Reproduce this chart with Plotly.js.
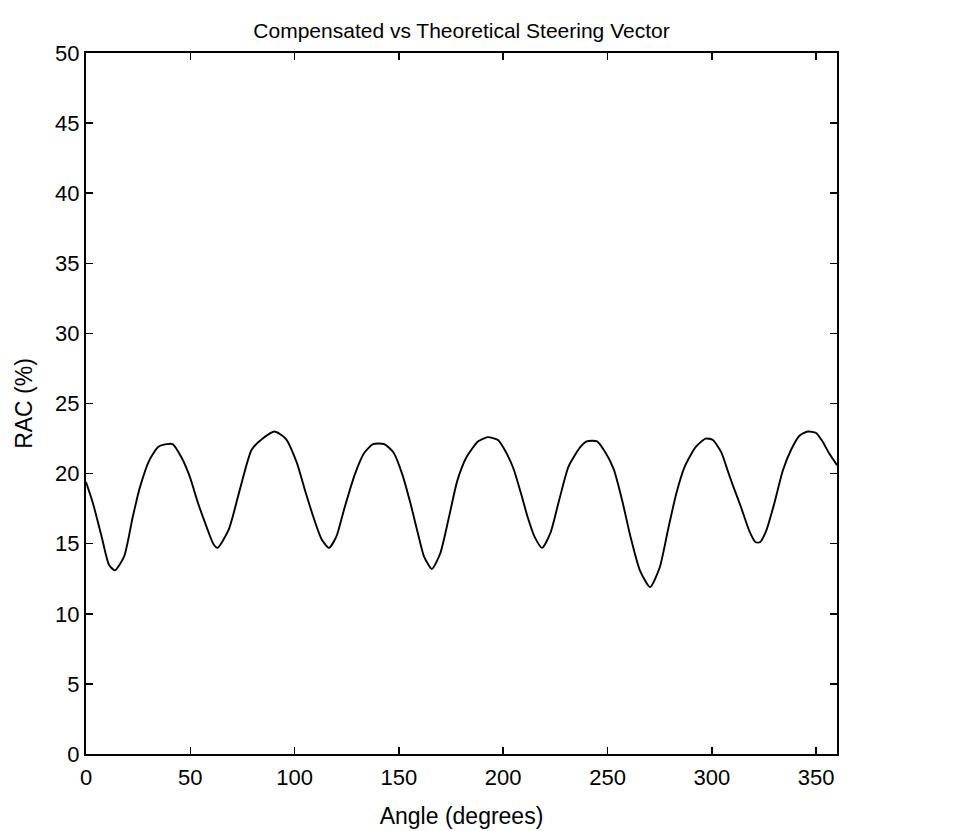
<!DOCTYPE html>
<html>
<head>
<meta charset="utf-8">
<script src="https://cdn.plot.ly/plotly-3.0.1.min.js"></script>
<style>html,body{margin:0;padding:0;background:#fff;}#chart{width:971px;height:831px;}</style>
</head>
<body>
<div id="chart"></div>
<script>
const chartTitle = "Compensated vs Theoretical Steering Vector";
const xTitle = "Angle (degrees)";
const yTitle = "RAC (%)";
const xTicks = [0, 50, 100, 150, 200, 250, 300, 350];
const yTicks = [0, 5, 10, 15, 20, 25, 30, 35, 40, 45, 50];

const angle = [0, 3.3, 7.5, 11, 13.8, 18.3, 22.4, 25.8, 30.5, 34.6, 38.7, 41.5, 45.6, 49.7, 53.7, 57.8, 61, 63,
  68.4, 74, 79.4, 84.7, 90.4, 95.7, 101, 105, 109, 113, 116.5, 120, 124, 129, 133.5, 137.6, 143, 147.4, 151.5,
  155.5, 159, 162, 165.8, 169.8, 174, 178, 182.5, 188, 192.6, 197.5, 200.7, 204.8, 208.5, 211.7, 215, 218.6,
  222.7, 226.8, 231.3, 237, 240, 245, 249, 253, 257, 261, 265.5, 270.4, 275, 279, 283, 287, 292.3, 297, 300.5,
  304.6, 307.4, 310, 314, 318, 321, 323, 326, 330, 334, 338, 342, 346, 350, 353, 356, 360];
const rac = [19.4, 17.9, 15.5, 13.5, 13.1, 14.1, 16.9, 19.0, 21.0, 21.9, 22.1, 22.1, 21.2, 19.8, 17.9, 16.2, 15.0, 14.7,
  16.0, 19.0, 21.7, 22.5, 23.0, 22.5, 20.8, 18.8, 16.9, 15.3, 14.7, 15.5, 17.6, 20.0, 21.5, 22.1, 22.1, 21.5, 20.0,
  17.9, 15.8, 14.1, 13.2, 14.3, 16.9, 19.5, 21.2, 22.3, 22.6, 22.4, 21.7, 20.4, 18.6, 16.9, 15.5, 14.7,
  15.8, 18.1, 20.5, 21.9, 22.3, 22.3, 21.5, 20.3, 18.1, 15.5, 13.1, 11.9, 13.3, 16.0, 18.6, 20.5, 21.9, 22.5, 22.4,
  21.5, 20.3, 19.2, 17.6, 15.9, 15.1, 15.1, 15.9, 17.9, 20.2, 21.7, 22.7, 23.0, 22.9, 22.3, 21.5, 20.6];

const font = "Liberation Sans, Arial, Helvetica, sans-serif";

const trace = {
  x: angle, y: rac, type: "scatter", mode: "lines",
  line: {color: "#000", width: 1.9, shape: "spline", smoothing: 0.6},
  hoverinfo: "skip"
};

const axisCommon = {
  showline: true, linecolor: "#000", linewidth: 2, mirror: "ticks",
  ticks: "inside", ticklen: 7, tickwidth: 1.5, tickcolor: "#000",
  showgrid: false, zeroline: false,
  tickfont: {family: font, size: 22, color: "#000"}
};

const layout = {
  width: 971, height: 831,
  paper_bgcolor: "#fff", plot_bgcolor: "#fff",
  margin: {l: 86, r: 134, t: 53, b: 77},
  showlegend: false,
  title: {text: chartTitle, x: 0.5, xref: "paper", xanchor: "center", y: 0.963, yref: "container", yanchor: "middle",
    font: {family: font, size: 21, color: "#000"}},
  xaxis: Object.assign({}, axisCommon, {
    range: [0, 360], tickvals: xTicks, ticktext: xTicks.map(String), ticklabelstandoff: 3,
    title: {text: xTitle, standoff: 18, font: {family: font, size: 23, color: "#000"}}
  }),
  yaxis: Object.assign({}, axisCommon, {
    range: [0, 50], tickvals: yTicks, ticktext: yTicks.map(String),
    title: {text: yTitle, standoff: 16, font: {family: font, size: 23, color: "#000"}}
  })
};

Plotly.newPlot("chart", [trace], layout, {staticPlot: true, displayModeBar: false});
</script>
</body>
</html>
